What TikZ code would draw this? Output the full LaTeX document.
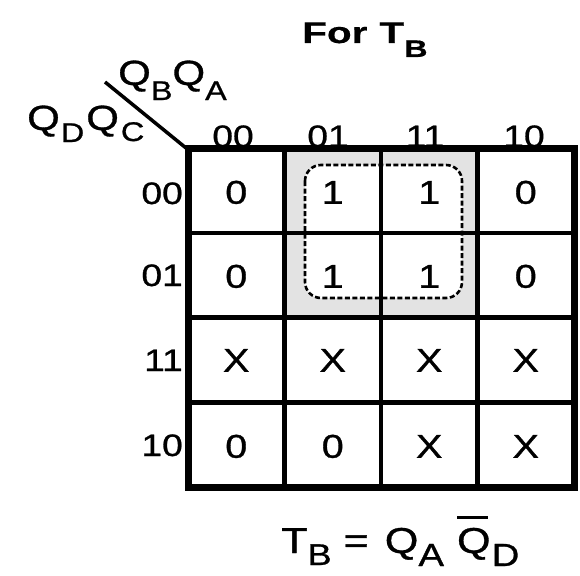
\documentclass[tikz,border=0pt]{standalone}
\usepackage{fontspec}
\newfontfamily\kf{Liberation Sans}[FakeStretch=1.2, FakeBold=0.9]
\newfontfamily\tkf{Liberation Sans Bold}[FakeStretch=1.35, FakeBold=0.6]
\newcommand\dn[3]{\raisebox{-#1pt}{\fontsize{#2}{#2}\selectfont #3}}
\begin{document}
\begin{tikzpicture}[x=1pt,y=-1pt,
  txt/.style={font=\kf\fontsize{31}{31}\selectfont, inner sep=0pt},
  cell/.style={txt, font=\kf\fontsize{33}{33}\selectfont, anchor=center, text height=23.5pt, text depth=0pt},
  rowlab/.style={txt, anchor=east, text height=22pt, text depth=0pt},
  collab/.style={txt, anchor=base},
  big/.style={font=\kf\fontsize{35}{35}\selectfont, inner sep=0pt, anchor=base west},
  frame/.style={line width=7pt, line join=miter},
  grid/.style={line width=4.5pt},
  group/.style={line width=2.6pt, dash pattern=on 5pt off 2.5pt, rounded corners=16pt}]
\useasboundingbox (0,0) rectangle (580,575);
% shaded group area
\fill[gray!22] (284.5,148) rectangle (477.5,317.5);
\fill[white, rounded corners=16pt] (305,165) rectangle (462,298);
% grid
\foreach \x in {284.5,381,477.5} \draw[grid] (\x,148) -- (\x,487);
\foreach \y in {232.75,317.5,402.25} \draw[grid] (188,\y) -- (574,\y);
\draw[frame] (188,148) rectangle (574,487);
% corner diagonal
\coordinate (d1) at (105,82);
\coordinate (d2) at (186,148);
\draw[line width=3.5pt] (d1) -- (d2);
% group outline
\draw[group] (305,165) rectangle (462,298);
% title
\node[inner sep=0pt, anchor=base west] (title) at (302,43) {\tkf\fontsize{30}{30}\selectfont For\hspace{12pt}T\dn{14}{24}{B}};
% variable labels
\node[big] (colvars) at (118,85) {Q\dn{15}{27}{B}Q\dn{15}{27}{A}};
\node[big] (rowvars) at (27,130) {Q\hspace{1pt}\dn{12}{27}{D}\hspace{2pt}Q\hspace{2pt}\dn{11}{27}{C}};
% column labels
\node[collab] (k00) at (233,147) {00};
\node[collab] (k01) at (328,147) {01};
\node[collab] (k11) at (425,147) {11};
\node[collab] (k10) at (524,147) {10};
% row labels
\node[rowlab] (r00) at (183,193) {00};
\node[rowlab] (r01) at (183,275) {01};
\node[rowlab] (r11) at (183,360) {11};
\node[rowlab] (r10) at (183,445) {10};
% cells
\node[cell] (c11) at (236.25,192) {0};
\node[cell] (c12) at (332.75,192) {1};
\node[cell] (c13) at (429.25,192) {1};
\node[cell] (c14) at (525.75,192) {0};
\node[cell] (c21) at (236.25,276) {0};
\node[cell] (c22) at (332.75,276) {1};
\node[cell] (c23) at (429.25,276) {1};
\node[cell] (c24) at (525.75,276) {0};
\node[cell] (c31) at (236.25,360) {X};
\node[cell] (c32) at (332.75,360) {X};
\node[cell] (c33) at (429.25,360) {X};
\node[cell] (c34) at (525.75,360) {X};
\node[cell] (c41) at (236.25,446) {0};
\node[cell] (c42) at (332.75,446) {0};
\node[cell] (c43) at (429.25,446) {X};
\node[cell] (c44) at (525.75,446) {X};
% equation
\node[big, font=\kf\fontsize{36}{36}\selectfont] (eq) at (281,553)
  {T\dn{12}{30}{B}\hspace{12pt}=\hspace{16pt}Q\dn{13}{32}{A}\hspace{13pt}\makebox[0pt][l]{\raisebox{34.5pt}{\rule{31pt}{3pt}}}Q\hspace{1pt}\dn{13}{32}{D}};
\end{tikzpicture}
\end{document}
